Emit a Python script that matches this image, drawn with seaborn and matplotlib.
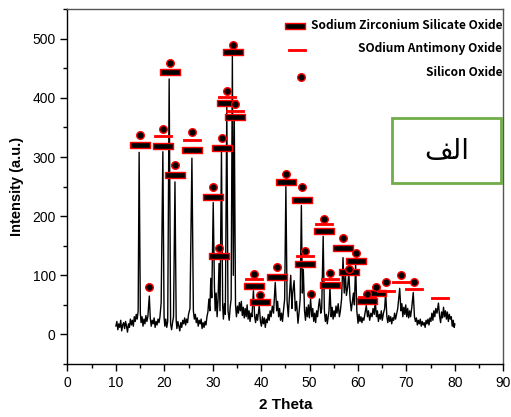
import numpy as np
import pandas as pd
import seaborn as sns
import matplotlib.pyplot as plt
from matplotlib.patches import Rectangle

sns.set_style("ticks")
plt.rcParams['font.family'] = ['Liberation Sans', 'DejaVu Sans']
plt.rcParams.update({'text.color': 'black', 'axes.labelcolor': 'black',
                     'xtick.color': 'black', 'ytick.color': 'black'})

# XRD trace (2 theta, intensity)
theta = [10.0, 10.2, 10.4, 10.6, 10.8, 11.0, 11.2, 11.4, 11.6, 11.8, 12.0, 12.2, 12.4, 12.6, 12.8,
         13.0, 13.2, 13.4, 13.6, 13.8, 14.0, 14.2, 14.4, 14.6, 14.8, 15.05, 15.2, 15.4, 15.6, 15.8,
         16.0, 16.2, 16.4, 16.6, 16.9, 17.1, 17.3, 17.5, 17.7, 17.9, 18.1, 18.3, 18.5, 18.7, 18.9,
         19.1, 19.35, 19.7, 19.95, 20.1, 20.3, 20.5, 20.7, 21.0, 21.3, 21.5, 21.7, 21.9, 22.2, 22.45,
         22.6, 22.8, 23.0, 23.2, 23.4, 23.6, 23.8, 24.0, 24.2, 24.4, 24.6, 24.8, 25.0, 25.3, 25.7,
         26.0, 26.2, 26.4, 26.6, 26.8, 27.0, 27.2, 27.4, 27.6, 27.8, 28.0, 28.2, 28.4, 28.6, 28.8,
         29.0, 29.2, 29.4, 29.6, 29.8, 30.1, 30.35, 30.5, 30.7, 30.9, 31.1, 31.3, 31.5, 31.8, 32.05,
         32.2, 32.4, 32.6, 32.9, 33.15, 33.4, 33.6, 33.8, 34.05, 34.25, 34.45, 34.7, 34.9, 35.1, 35.3,
         35.5, 35.7, 35.9, 36.1, 36.3, 36.5, 36.7, 36.9, 37.1, 37.3, 37.5, 37.7, 37.9, 38.1, 38.4,
         38.65, 38.85, 39.05, 39.25, 39.6, 39.85, 40.05, 40.25, 40.45, 40.65, 40.85, 41.05, 41.25, 41.45, 41.65,
         41.85, 42.05, 42.3, 42.55, 42.9, 43.2, 43.4, 43.6, 43.8, 44.0, 44.2, 44.4, 44.6, 44.85, 45.1,
         45.35, 45.6, 45.8, 46.1, 46.35, 46.5, 46.8, 47.05, 47.3, 47.6, 47.85, 48.05, 48.3, 48.5, 48.7,
         48.95, 49.15, 49.35, 49.55, 49.75, 49.95, 50.2, 50.45, 50.65, 50.85, 51.05, 51.25, 51.45, 51.65, 51.85,
         52.05, 52.3, 52.5, 52.8, 53.05, 53.25, 53.45, 53.65, 53.85, 54.0, 54.2, 54.45, 54.65, 54.85, 55.05,
         55.25, 55.45, 55.65, 55.9, 56.15, 56.35, 56.6, 56.9, 57.15, 57.4, 57.6, 57.85, 58.1, 58.35, 58.6,
         58.85, 59.05, 59.25, 59.5, 59.75, 60.0, 60.2, 60.4, 60.6, 60.8, 61.0, 61.2, 61.45, 61.7, 61.95,
         62.15, 62.4, 62.65, 62.9, 63.1, 63.35, 63.55, 63.8, 64.0, 64.2, 64.4, 64.6, 64.8, 65.0, 65.25,
         65.5, 65.7, 65.95, 66.15, 66.35, 66.55, 66.75, 66.95, 67.15, 67.35, 67.55, 67.75, 67.95, 68.2, 68.6,
         68.85, 69.05, 69.25, 69.45, 69.65, 69.85, 70.05, 70.25, 70.45, 70.65, 70.85, 71.1, 71.4, 71.65, 71.85,
         72.05, 72.25, 72.45, 72.65, 72.85, 73.05, 73.25, 73.45, 73.65, 73.85, 74.05, 74.25, 74.45, 74.65, 74.85,
         75.05, 75.25, 75.45, 75.65, 75.85, 76.05, 76.3, 76.6, 76.85, 77.05, 77.25, 77.45, 77.65, 77.85, 78.05,
         78.25, 78.45, 78.65, 78.85, 79.05, 79.25, 79.45, 79.65, 79.85, 80.0]
intensity = [14, 22, 8, 18, 12, 24, 6, 16, 20, 10, 22, 14, 4, 18, 12,
             26, 16, 24, 14, 30, 22, 34, 26, 40, 308, 36, 20, 30, 14, 26,
             18, 32, 22, 30, 65, 28, 14, 24, 18, 28, 12, 22, 16, 26, 20,
             30, 54, 309, 30, 14, 26, 12, 22, 432, 18, 8, 20, 30, 258, 24,
             10, 22, 14, 6, 20, 12, 24, 18, 28, 16, 26, 20, 34, 44, 298,
             40, 26, 34, 20, 28, 14, 24, 18, 26, 10, 20, 12, 22, 16, 30,
             38, 60, 40, 95, 62, 223, 80, 40, 70, 30, 60, 120, 40, 308, 48,
             26, 52, 34, 387, 40, 24, 46, 60, 471, 100, 361, 50, 30, 48, 36,
             54, 40, 56, 32, 46, 28, 44, 30, 50, 26, 40, 22, 36, 30, 74,
             30, 20, 34, 24, 49, 22, 14, 30, 18, 28, 12, 26, 20, 34, 24,
             40, 30, 48, 36, 88, 40, 56, 30, 44, 24, 36, 22, 40, 60, 250,
             56, 30, 60, 100, 44, 70, 91, 40, 56, 19, 40, 60, 218, 70, 110,
             40, 24, 46, 30, 50, 28, 60, 30, 44, 22, 36, 20, 40, 30, 48,
             60, 36, 44, 166, 40, 22, 34, 18, 30, 40, 80, 30, 46, 26, 40,
             30, 48, 36, 52, 30, 40, 60, 130, 70, 100, 66, 80, 105, 60, 40,
             56, 70, 50, 119, 40, 19, 34, 22, 30, 20, 28, 24, 36, 49, 30,
             40, 24, 36, 30, 44, 34, 57, 30, 40, 22, 34, 26, 40, 24, 36,
             44, 71, 30, 20, 32, 22, 30, 18, 28, 24, 36, 26, 34, 44, 78,
             40, 52, 30, 46, 34, 50, 30, 44, 28, 40, 30, 46, 71, 30, 22,
             28, 16, 24, 18, 26, 14, 22, 16, 20, 12, 24, 18, 26, 16, 28,
             22, 36, 24, 40, 30, 44, 36, 53, 30, 20, 38, 28, 46, 30, 40,
             26, 38, 22, 34, 26, 30, 14, 24, 12, 18]

# phase markers
szso_x = [15.0, 19.7, 21.1, 22.3, 25.8, 30.1, 31.3, 31.9, 32.9, 34.1, 34.6, 38.5, 39.8, 43.2,
          45.2, 48.4, 49.0, 52.9, 54.3, 56.9, 58.2, 59.6, 61.8, 63.8]
szso_y = [321, 318, 444, 269, 312, 233, 133, 315, 392, 477, 367, 82, 55, 97,
          257, 228, 119, 175, 84, 147, 105, 124, 56, 70]
sao_x = [19.7, 25.8, 32.9, 34.6, 38.5, 49.0, 52.9, 54.3, 61.8, 65.8, 68.9, 71.6, 76.9]
sao_y = [335, 329, 402, 377, 94, 132, 187, 94, 63, 74, 88, 77, 61]
so_x = [15.0, 16.9, 19.7, 21.1, 22.3, 25.8, 30.1, 31.3, 31.9, 32.9, 34.1, 34.6, 38.5, 39.8, 43.2,
        45.2, 48.4, 49.0, 50.2, 52.9, 54.3, 56.9, 58.2, 59.6, 61.8, 63.8, 65.8, 68.9, 71.6]
so_y = [337, 80, 347, 459, 286, 342, 249, 146, 332, 412, 490, 389, 103, 66, 114,
        271, 249, 141, 68, 196, 104, 163, 111, 137, 69, 80, 88, 100, 89]

legend_labels = ['Sodium Zirconium Silicate Oxide', 'SOdium Antimony Oxide', 'Silicon Oxide']
panel_label = '\ufed2\ufedf\ufe8d'  # "الف" in visual (presentation) form

box_marker = [(-1, -0.36), (1, -0.36), (1, 0.36), (-1, 0.36), (-1, -0.36)]
bar_marker = [(-1, -0.1), (1, -0.1), (1, 0.1), (-1, 0.1), (-1, -0.1)]

fig = plt.figure(figsize=(5.11, 4.17), dpi=100)
ax = fig.add_axes([0.132, 0.127, 0.853, 0.851])

sns.lineplot(x=theta, y=intensity, color='black', lw=1.0, ax=ax, estimator=None, sort=False, zorder=2)

sns.scatterplot(x=szso_x, y=szso_y, marker=box_marker, s=190, color='black',
                edgecolor='red', linewidth=1.0, ax=ax, zorder=3)
sns.scatterplot(x=sao_x, y=sao_y, marker=bar_marker, s=150, color='red',
                edgecolor='red', linewidth=0.6, ax=ax, zorder=4)
sns.scatterplot(x=so_x, y=so_y, marker='o', s=30, color='black',
                edgecolor='red', linewidth=1.0, ax=ax, zorder=5)

ax.set_xlim(0, 90)
ax.set_ylim(-50, 550)
ax.set_xticks(range(0, 91, 10))
ax.set_xticks(range(5, 90, 10), minor=True)
ax.set_yticks(range(0, 501, 100))
ax.set_yticks(range(-50, 551, 100), minor=True)
ax.tick_params(axis='both', which='major', direction='out', length=5, width=1, labelsize=10)
ax.tick_params(axis='both', which='minor', direction='out', length=3, width=1)
ax.set_xlabel('2 Theta', fontsize=11, fontweight='bold', labelpad=6)
ax.set_ylabel('Intensity (a.u.)', fontsize=10.5, fontweight='bold', labelpad=6)
for s in ['left', 'bottom']:
    ax.spines[s].set_color('black')
    ax.spines[s].set_linewidth(1.0)
for s in ['top', 'right']:
    ax.spines[s].set_color('#555555')
    ax.spines[s].set_linewidth(1.0)

# legend drawn by hand: markers left, labels right aligned
leg_font = dict(fontsize=8.6, fontweight='bold', family=['Noto Sans CJK KR', 'DejaVu Sans'])
ax.scatter([0.523], [0.952], marker=box_marker, s=190, color='black', edgecolor='red',
           linewidth=1.0, transform=ax.transAxes, clip_on=False, zorder=6)
ax.scatter([0.527], [0.884], marker=bar_marker, s=150, color='red', edgecolor='red',
           linewidth=0.6, transform=ax.transAxes, clip_on=False, zorder=6)
ax.scatter([0.536], [0.808], marker='o', s=30, color='black', edgecolor='red',
           linewidth=1.0, transform=ax.transAxes, clip_on=False, zorder=6)
for lab, yy in zip(legend_labels, [0.955, 0.889, 0.822]):
    ax.text(0.998, yy, lab, ha='right', va='center', transform=ax.transAxes, **leg_font)

ax.add_patch(Rectangle((0.745, 0.510), 0.249, 0.183, transform=ax.transAxes,
                       facecolor='white', edgecolor='#70AD47', linewidth=2, zorder=6))
ax.text(0.87, 0.600, panel_label, ha='center', va='center', transform=ax.transAxes,
        fontsize=20, family='DejaVu Sans', zorder=7)

fig.savefig('out.png', dpi=100)
